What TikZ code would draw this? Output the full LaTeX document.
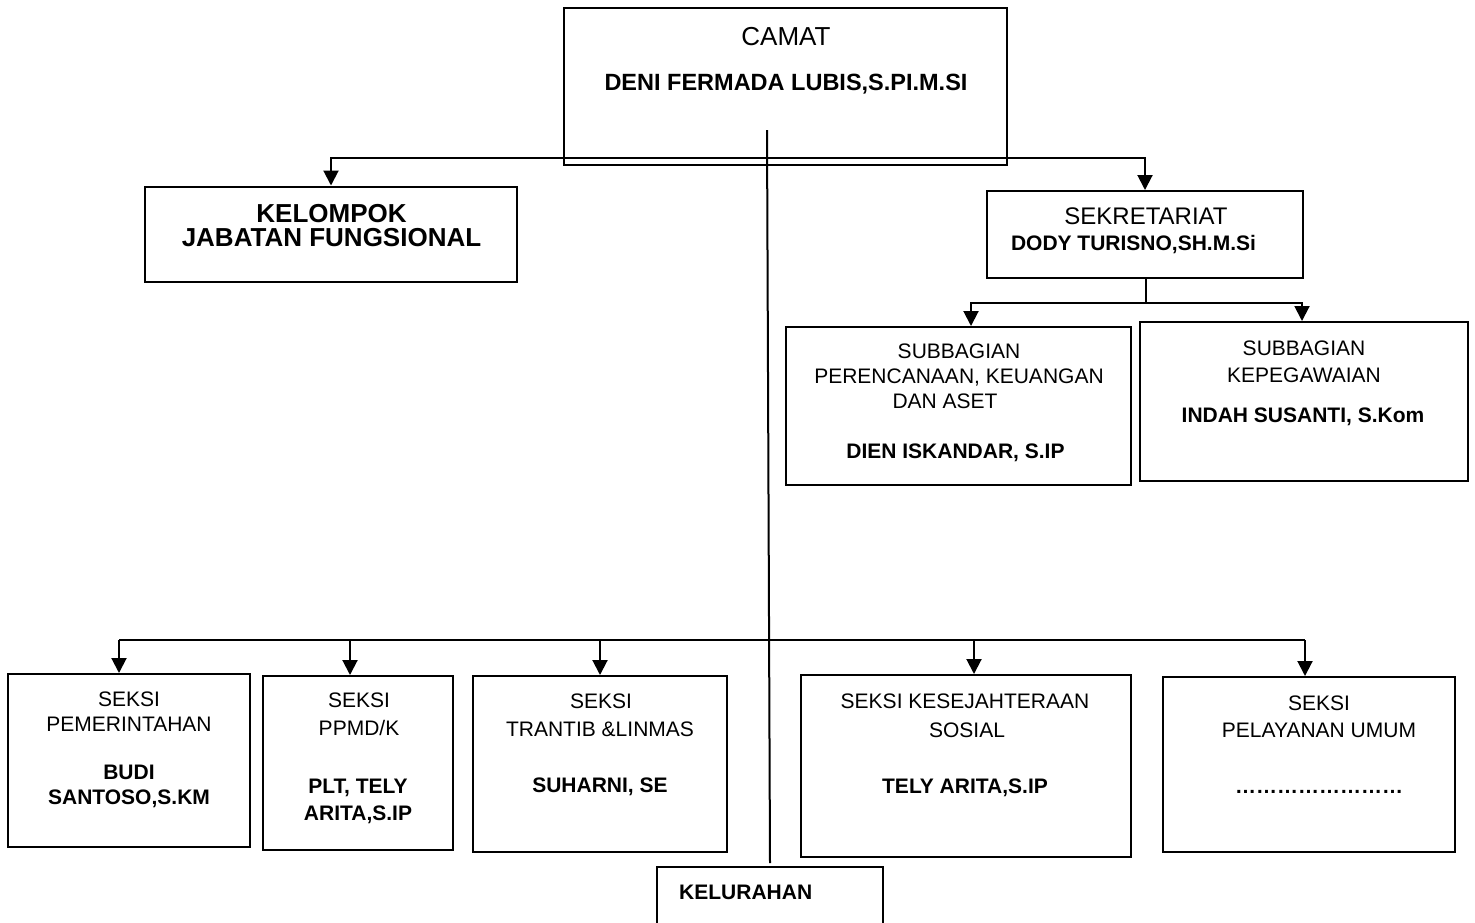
\documentclass[tikz,border=0pt]{standalone}
\usepackage{fontspec}
\setmainfont{Liberation Sans}
\usetikzlibrary{arrows.meta}
\tikzset{
  box/.style={draw=black, line width=2pt, inner sep=0pt},
  conn/.style={draw=black, line width=2pt},
  arr/.style={conn, -{Triangle[length=15pt,width=15pt]}},
  txt/.style={inner sep=0pt, anchor=base, font=\fontsize{21}{25}\selectfont},
  txtb/.style={inner sep=0pt, anchor=base, font=\fontsize{21}{25}\selectfont\bfseries},
}
\begin{document}
\begin{tikzpicture}[x=1pt,y=-1pt]
\clip (0,0) rectangle (1475,922);
\fill[white] (0,0) rectangle (1475,922);

% boxes
\node[box, minimum width=443pt, minimum height=157pt] (camat) at (785.5,86.5) {};
\node[box, minimum width=372pt, minimum height=95pt] (kel) at (331,234) {};
\node[box, minimum width=316pt, minimum height=87pt] (sek) at (1145,234.5) {};
\node[box, minimum width=345pt, minimum height=158pt] (sub1) at (958.5,406) {};
\node[box, minimum width=328pt, minimum height=159pt] (sub2) at (1304,401.5) {};
\node[box, minimum width=242pt, minimum height=173pt] (s1) at (129,760.5) {};
\node[box, minimum width=190pt, minimum height=174pt] (s2) at (358,763) {};
\node[box, minimum width=254pt, minimum height=176pt] (s3) at (600,764) {};
\node[box, minimum width=330pt, minimum height=182pt] (s4) at (966,766) {};
\node[box, minimum width=292pt, minimum height=175pt] (s5) at (1309,764.5) {};
\node[box, minimum width=226pt, minimum height=94pt] (kelu) at (770,914) {};

% texts
\node[txt, font=\fontsize{26}{30}\selectfont] (tcamat) at (786,45) {CAMAT};
\node[txtb, font=\fontsize{23.5}{28}\selectfont\bfseries] (tdeni) at (786,90) {DENI FERMADA LUBIS,S.PI.M.SI};
\node[txtb, font=\fontsize{26}{30}\selectfont\bfseries] (tkel1) at (331.5,222) {KELOMPOK};
\node[txtb, font=\fontsize{26}{30}\selectfont\bfseries] (tkel2) at (331.5,246) {JABATAN FUNGSIONAL};
\node[txt, font=\fontsize{24}{28}\selectfont] (tsek1) at (1146,224) {SEKRETARIAT};
\node[txtb] (tsek2) at (1133.5,250) {DODY TURISNO,SH.M.Si};

\node[txt] (tsa1) at (959,358) {SUBBAGIAN};
\node[txt] (tsa2) at (959,383) {PERENCANAAN, KEUANGAN};
\node[txt] (tsa3) at (945,408) {DAN ASET};
\node[txtb] (tsa4) at (955.5,458) {DIEN ISKANDAR, S.IP};

\node[txt] (tsb1) at (1304,355) {SUBBAGIAN};
\node[txt] (tsb2) at (1304,382) {KEPEGAWAIAN};
\node[txtb] (tsb3) at (1303,422) {INDAH SUSANTI, S.Kom};

\node[txt] (ts11) at (129,706) {SEKSI};
\node[txt] (ts12) at (129,731) {PEMERINTAHAN};
\node[txtb] (ts13) at (129,779) {BUDI};
\node[txtb] (ts14) at (129,804) {SANTOSO,S.KM};

\node[txt] (ts21) at (359,707) {SEKSI};
\node[txt] (ts22) at (359,735) {PPMD/K};
\node[txtb] (ts23) at (358,793) {PLT, TELY};
\node[txtb] (ts24) at (358,820) {ARITA,S.IP};

\node[txt] (ts31) at (601,708) {SEKSI};
\node[txt] (ts32) at (600,736) {TRANTIB \&LINMAS};
\node[txtb] (ts33) at (600,792) {SUHARNI, SE};

\node[txt] (ts41) at (965,708) {SEKSI KESEJAHTERAAN};
\node[txt] (ts42) at (967,737) {SOSIAL};
\node[txtb] (ts43) at (965,793) {TELY ARITA,S.IP};

\node[txt] (ts51) at (1319,710) {SEKSI};
\node[txt] (ts52) at (1319,737) {PELAYANAN UMUM};
\node[txtb] (ts53) at (1319,793) {……………………};

\node[txtb, anchor=base west] (tkelu) at (679,899) {KELURAHAN};

% connectors: top bus
\coordinate (bustop) at (785,158);
\draw[arr] (bustop) -| (kel.north);
\draw[arr] (bustop) -| (sek.north);

% sekretariat to subbagian
\coordinate (sekbus) at (1146,303);
\draw[conn] (sek.south -| sekbus) -- (sekbus);
\draw[arr] (sekbus) -| ([xshift=12.5pt]sub1.north);
\draw[arr] (sekbus) -| ([xshift=-2pt]sub2.north);

% long vertical line to kelurahan
\coordinate (vtop) at (767,130);
\draw[conn] (vtop) -- ([yshift=3pt]kelu.north);

% bottom bus
\coordinate (b1) at (119,640);
\coordinate (b2) at (350,640);
\coordinate (b3) at (600,640);
\coordinate (b4) at (974,640);
\coordinate (b5) at (1305,640);
\draw[conn] (b1) -- (b5);
\draw[arr] (b1) -- (b1 |- s1.north);
\draw[arr] (b2) -- (b2 |- s2.north);
\draw[arr] (b3) -- (b3 |- s3.north);
\draw[arr] (b4) -- (b4 |- s4.north);
\draw[arr] (b5) -- (b5 |- s5.north);
\end{tikzpicture}
\end{document}
